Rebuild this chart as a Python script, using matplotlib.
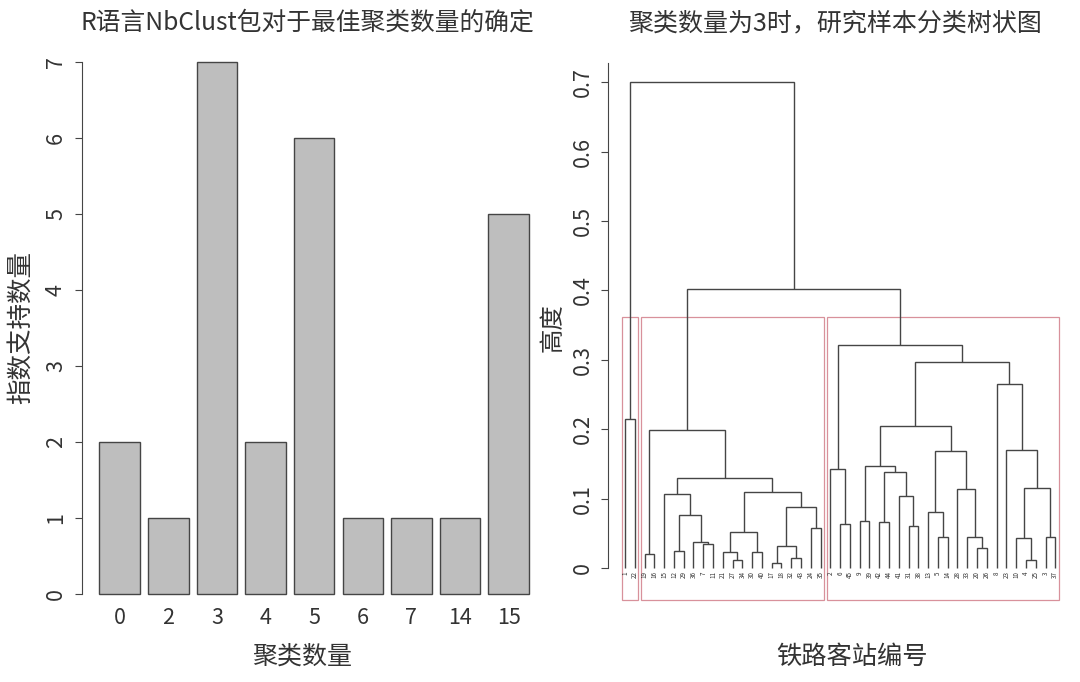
import matplotlib
matplotlib.use("Agg")
import matplotlib.pyplot as plt
from matplotlib.patches import Rectangle

plt.rcParams['font.family'] = ['Noto Sans CJK SC', 'DejaVu Sans']
plt.rcParams['font.weight'] = 'light'

# ---------------- data ----------------
bar_categories = ['0', '2', '3', '4', '5', '6', '7', '14', '15']
bar_values = [2, 1, 7, 2, 6, 1, 1, 1, 5]
bar_yticks = [0, 1, 2, 3, 4, 5, 6, 7]

# dendrogram: internal node = [height, left, right], leaf = station number
cluster1 = [0.214, 1, 22]
cluster2 = [0.199, [0.020, 19, 16],
            [0.130,
             [0.106, 15, [0.077, [0.025, 12, 29], [0.038, 36, [0.035, 7, 11]]]],
             [0.109,
              [0.052, [0.023, 21, [0.0115, 27, 34]], [0.023, 30, 40]],
              [0.088, [0.032, [0.007, 17, 18], [0.015, 32, 43]], [0.057, 24, 35]]]]]
cluster3 = [0.321, [0.142, 2, [0.063, 6, 45]],
            [0.297,
             [0.204,
              [0.147, [0.067, 9, 39], [0.139, [0.066, 42, 44], [0.104, 41, [0.060, 31, 38]]]],
              [0.169, [0.081, 13, [0.045, 5, 14]], [0.114, 28, [0.044, 33, [0.029, 20, 26]]]]],
             [0.265, 8, [0.170, 23, [0.115, [0.043, 10, [0.0115, 4, 25]], [0.045, 3, 37]]]]]]
root_height = 0.700
mid_height = 0.402
tree = [root_height, cluster1, [mid_height, cluster2, cluster3]]
clusters = [cluster1, cluster2, cluster3]
dendro_yticks = [0.0, 0.1, 0.2, 0.3, 0.4, 0.5, 0.6, 0.7]
dendro_yticklabels = ['0', '0.1', '0.2', '0.3', '0.4', '0.5', '0.6', '0.7']

title_left = 'R语言NbClust包对于最佳聚类数量的确定'
title_right = '聚类数量为3时，研究样本分类树状图'
xlabel_left = '聚类数量'
ylabel_left = '指数支持数量'
xlabel_right = '铁路客站编号'
ylabel_right = '高度'

# ---------------- style ----------------
W, H = 1080, 682
TXT = '#333333'
LINE = '#454545'
RECT = '#d8919b'

fig = plt.figure(figsize=(W / 100, H / 100), dpi=100)

# ---------------- left: bar chart ----------------
axL = fig.add_axes([82.3 / W, 1 - 615.6 / H, (546 - 82.3) / W, (615.6 - 40.7) / H])
n = len(bar_values)
centers = [0.7 + 1.2 * i for i in range(n)]
axL.bar(centers, bar_values, width=1.0, color='#bebebe', edgecolor=LINE, linewidth=1.0)
axL.set_xlim(-0.224, 11.224)
axL.set_ylim(-0.28, 7.28)
for s in ['top', 'right', 'bottom']:
    axL.spines[s].set_visible(False)
axL.spines['left'].set_bounds(0, 7)
axL.spines['left'].set_color(LINE)
axL.set_yticks(bar_yticks)
axL.set_yticklabels([str(v) for v in bar_yticks], rotation=90, va='center', fontsize=15.5, color=TXT)
axL.tick_params(axis='y', length=5, color=LINE, pad=6)
axL.set_xticks(centers)
axL.set_xticklabels(bar_categories, fontsize=15.5, color=TXT)
axL.tick_params(axis='x', length=0, pad=-6)

# ---------------- right: dendrogram ----------------
axR = fig.add_axes([607.8 / W, 1 - 599.9 / H, (1072.5 - 607.8) / W, (599.9 - 62.8) / H])
leaf_order = []
leaf_pos = {}


def draw(node):
    if not isinstance(node, list):
        leaf_order.append(node)
        x = float(len(leaf_order))
        leaf_pos[node] = x
        return x, 0.0
    h, left, right = node
    xl, hl = draw(left)
    xr, hr = draw(right)
    axR.plot([xl, xl, xr, xr], [hl, h, h, hr], color=LINE, linewidth=1.0,
             solid_joinstyle='miter', solid_capstyle='butt')
    return (xl + xr) / 2, h


draw(tree)
for lab in leaf_order:
    axR.text(leaf_pos[lab], -0.005, str(lab), rotation=90, ha='center', va='top',
             fontsize=4.5, color=TXT)


def leaves_of(node):
    if not isinstance(node, list):
        return [node]
    return leaves_of(node[1]) + leaves_of(node[2])


rect_top = (cluster3[0] + mid_height) / 2
rect_bottom = -0.046
for c in clusters:
    lv = leaves_of(c)
    x0 = leaf_pos[lv[0]] - 0.34
    x1 = leaf_pos[lv[-1]] + 0.33
    axR.add_patch(Rectangle((x0, rect_bottom), x1 - x0, rect_top - rect_bottom,
                            fill=False, edgecolor=RECT, linewidth=0.9, clip_on=False))

nleaf = len(leaf_order)
axR.set_xlim(1 - 0.04 * (nleaf - 1), nleaf + 0.04 * (nleaf - 1))
axR.set_ylim(rect_bottom, 0.728)
for s in ['top', 'right', 'bottom']:
    axR.spines[s].set_visible(False)
axR.spines['left'].set_bounds(0, 0.728)
axR.spines['left'].set_color(LINE)
axR.set_xticks([])
axR.set_yticks(dendro_yticks)
axR.set_yticklabels(dendro_yticklabels, rotation=90, va='center', fontsize=15.5, color=TXT)
axR.tick_params(axis='y', length=5, color=LINE, pad=5)

# ---------------- titles & labels ----------------
fig.text(307 / W, 1 - 23 / H, title_left, ha='center', va='center', fontsize=17.8, color=TXT)
fig.text(835 / W, 1 - 23 / H, title_right, ha='center', va='center', fontsize=18, color=TXT)
fig.text(302 / W, 1 - 657 / H, xlabel_left, ha='center', va='center', fontsize=18, color=TXT)
fig.text(22 / W, 1 - 327 / H, ylabel_left, ha='center', va='center', rotation=90, fontsize=18.4, color=TXT)
fig.text(852 / W, 1 - 657 / H, xlabel_right, ha='center', va='center', fontsize=18.2, color=TXT)
fig.text(553 / W, 1 - 328 / H, ylabel_right, ha='center', va='center', rotation=90, fontsize=17.6, color=TXT)

fig.savefig('out.png', dpi=100)
